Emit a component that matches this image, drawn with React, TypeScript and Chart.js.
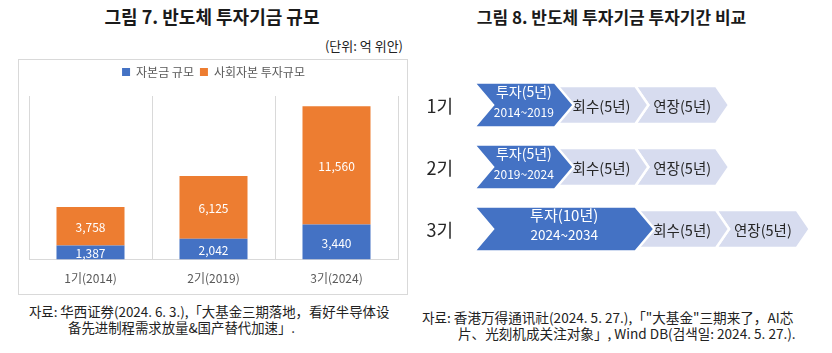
import React, { useEffect, useRef } from 'react';
import { Chart, registerables } from 'chart.js';

Chart.register(...registerables);

const KR = '"Noto Sans CJK KR", "Noto Sans", sans-serif';

// ---- Figure 7 data ----
const fundCategories = ['1기(2014)', '2기(2019)', '3기(2024)'];
const seriesNames = ['자본금 규모', '사회자본 투자규모'];
const capitalValues = [1387, 2042, 3440];
const socialValues = [3758, 6125, 11560];
const fundAxisMax = 16000;

// ---- Figure 8 data (years from the start of each fund) ----
const phaseRows = ['1기', '2기', '3기'];
const phaseNames = ['투자', '회수', '연장'];
const investSpans = [[0, 5], [0, 5], [0, 10]];
const recoverSpans = [[5, 10], [5, 10], [10, 15]];
const extendSpans = [[10, 15], [10, 15], [15, 20]];
const investLabels = ['투자(5년)', '투자(5년)', '투자(10년)'];
const investPeriods = ['2014~2019', '2019~2024', '2024~2034'];
const recoverLabels = ['회수(5년)', '회수(5년)', '회수(5년)'];
const extendLabels = ['연장(5년)', '연장(5년)', '연장(5년)'];
const timelineMax = 22;

const legendSpacer = {
  id: 'legendSpacer',
  afterInit(chart: any) {
    const lg = chart.legend;
    if (lg && !lg.__patched) {
      const orig = lg.fit;
      lg.fit = function () {
        orig.call(this);
        this.height += 8;
      };
      lg.__patched = true;
    }
  },
};

const barValueLabels = {
  id: 'barValueLabels',
  afterDatasetsDraw(chart: any) {
    const ctx = chart.ctx;
    ctx.save();
    ctx.fillStyle = '#ffffff';
    ctx.font = `12px ${KR}`;
    ctx.textAlign = 'center';
    ctx.textBaseline = 'middle';
    chart.data.datasets.forEach((ds: any, di: number) => {
      const meta = chart.getDatasetMeta(di);
      meta.data.forEach((el: any, i: number) => {
        const p = el.getProps(['x', 'y', 'base'], true);
        const v = ds.data[i] as number;
        ctx.fillText(v.toLocaleString('en-US'), p.x, (p.y + p.base) / 2 + 1);
      });
    });
    ctx.restore();
  },
};

const labelSets = [investLabels, recoverLabels, extendLabels];

const chevrons = {
  id: 'chevrons',
  afterDatasetsDraw(chart: any) {
    const ctx = chart.ctx;
    ctx.save();
    // row labels (1기, 2기, 3기) placed from the category scale
    const yScale = chart.scales.y;
    ctx.font = `18px ${KR}`;
    ctx.fillStyle = '#262626';
    ctx.textAlign = 'right';
    ctx.textBaseline = 'middle';
    (chart.data.labels as string[]).forEach((lab, i) => {
      ctx.fillText(lab, chart.chartArea.left - 21, yScale.getPixelForValue(i) + 1);
    });

    for (let di = chart.data.datasets.length - 1; di >= 0; di--) {
      const meta = chart.getDatasetMeta(di);
      meta.data.forEach((el: any, i: number) => {
        const p = el.getProps(['x', 'y', 'base', 'height'], true);
        const left = Math.min(p.x, p.base);
        const right = Math.max(p.x, p.base);
        const h = p.height;
        const top = p.y - h / 2;
        const bot = p.y + h / 2;
        const primary = di === 0;
        const d = primary ? 19 : 13;
        ctx.beginPath();
        ctx.moveTo(left, top);
        ctx.lineTo(right, top);
        ctx.lineTo(right + d, p.y);
        ctx.lineTo(right, bot);
        ctx.lineTo(left, bot);
        ctx.lineTo(left + d, p.y);
        ctx.closePath();
        ctx.fillStyle = primary ? '#4472C4' : '#D7DCEF';
        ctx.fill();
        ctx.lineWidth = 2.5;
        ctx.strokeStyle = '#ffffff';
        ctx.lineJoin = 'miter';
        ctx.stroke();

        const cx = (left + right) / 2 + d / 2;
        ctx.textAlign = 'center';
        ctx.textBaseline = 'middle';
        if (primary) {
          const wide = right - left > 120;
          ctx.fillStyle = '#ffffff';
          ctx.font = `${wide ? 15 : 14}px ${KR}`;
          ctx.fillText(labelSets[0][i], cx, p.y - (wide ? 14 : 13));
          ctx.font = `${wide ? 13.5 : 12}px ${KR}`;
          ctx.fillText(investPeriods[i], cx, p.y + (wide ? 6 : 7));
        } else {
          ctx.fillStyle = '#262626';
          ctx.font = `14.5px ${KR}`;
          ctx.fillText(labelSets[di][i], cx, p.y + 1);
        }
      });
    }
    ctx.restore();
  },
};

export default function App() {
  const leftRef = useRef<HTMLCanvasElement>(null);
  const rightRef = useRef<HTMLCanvasElement>(null);

  useEffect(() => {
    const c1 = new Chart(leftRef.current as HTMLCanvasElement, {
      type: 'bar',
      data: {
        labels: fundCategories,
        datasets: [
          {
            label: seriesNames[0],
            data: capitalValues,
            backgroundColor: '#4472C4',
            barPercentage: 0.553,
            categoryPercentage: 1,
          },
          {
            label: seriesNames[1],
            data: socialValues,
            backgroundColor: '#ED7D31',
            barPercentage: 0.553,
            categoryPercentage: 1,
          },
        ],
      },
      options: {
        animation: false,
        responsive: false,
        maintainAspectRatio: false,
        layout: { padding: { top: 0, left: 10, right: 9, bottom: 0 } },
        plugins: {
          legend: {
            position: 'top',
            labels: {
              boxWidth: 8,
              boxHeight: 8,
              padding: 6,
              color: '#595959',
              font: { size: 12, family: KR },
            },
          },
          tooltip: { enabled: false },
        },
        scales: {
          x: {
            stacked: true,
            grid: { color: '#d9d9d9', drawTicks: false, offset: true },
            border: { color: '#d9d9d9' },
            ticks: { padding: 12, color: '#595959', font: { size: 12, family: KR } },
          },
          y: { stacked: true, display: false, min: 0, max: fundAxisMax },
        },
      },
      plugins: [legendSpacer, barValueLabels],
    } as any);

    const c2 = new Chart(rightRef.current as HTMLCanvasElement, {
      type: 'bar',
      data: {
        labels: phaseRows,
        datasets: [
          { label: phaseNames[0], data: investSpans, backgroundColor: 'rgba(0,0,0,0)', barThickness: 45, grouped: false },
          { label: phaseNames[1], data: recoverSpans, backgroundColor: 'rgba(0,0,0,0)', barThickness: 38, grouped: false },
          { label: phaseNames[2], data: extendSpans, backgroundColor: 'rgba(0,0,0,0)', barThickness: 38, grouped: false },
        ],
      },
      options: {
        indexAxis: 'y',
        animation: false,
        responsive: false,
        maintainAspectRatio: false,
        layout: { padding: { top: 14, bottom: 10, left: 59, right: 3 } },
        plugins: { legend: { display: false }, tooltip: { enabled: false } },
        scales: {
          x: { display: false, min: 0, max: timelineMax },
          y: { display: false },
        },
      },
      plugins: [chevrons],
    } as any);

    return () => {
      c1.destroy();
      c2.destroy();
    };
  }, []);

  const abs = (s: React.CSSProperties): React.CSSProperties => ({ position: 'absolute', whiteSpace: 'nowrap', ...s });

  return (
    <div
      style={{
        position: 'fixed',
        left: 0,
        top: 0,
        width: 832,
        height: 353,
        background: '#ffffff',
        fontFamily: KR,
        color: '#1a1a1a',
        overflow: 'hidden',
      }}
    >
      <div style={abs({ left: 0, width: 424, top: 6, textAlign: 'center', fontSize: 18, lineHeight: '21px', fontWeight: 700 })}>
        그림 7. 반도체 투자기금 규모
      </div>
      <div style={abs({ right: 429, top: 38, fontSize: 13, lineHeight: '16px', color: '#222' })}>(단위: 억 위안)</div>
      <div style={abs({ left: 18, top: 59, width: 390, height: 236, border: '1px solid #d9d9d9', boxSizing: 'border-box' })} />
      <canvas ref={leftRef} width={388} height={238} style={abs({ left: 19, top: 60, width: 388, height: 238 })} />

      <div style={abs({ left: 420, width: 383, top: 7, textAlign: 'center', fontSize: 17, lineHeight: '20px', fontWeight: 700 })}>
        그림 8. 반도체 투자기금 투자기간 비교
      </div>
      <canvas ref={rightRef} width={417} height={210} style={abs({ left: 415, top: 60, width: 417, height: 210 })} />

      <div style={abs({ left: 29, top: 303, fontSize: 13.4, lineHeight: '16px', color: '#222' })}>
        자료: 华西证券(2024. 6. 3.),「大基金三期落地，看好半导体设
      </div>
      <div style={abs({ left: 68, top: 319, fontSize: 13.4, lineHeight: '16px', color: '#222' })}>
        备先进制程需求放量&国产替代加速」.
      </div>
      <div style={abs({ left: 422, top: 309, fontSize: 13.6, lineHeight: '16px', color: '#222' })}>
        자료: 香港万得通讯社(2024. 5. 27.),「"大基金"三期来了，AI芯
      </div>
      <div style={abs({ left: 458, top: 325, fontSize: 13.6, lineHeight: '16px', color: '#222' })}>
        片、光刻机成关注对象」, Wind DB(검색일: 2024. 5. 27.).
      </div>
    </div>
  );
}
